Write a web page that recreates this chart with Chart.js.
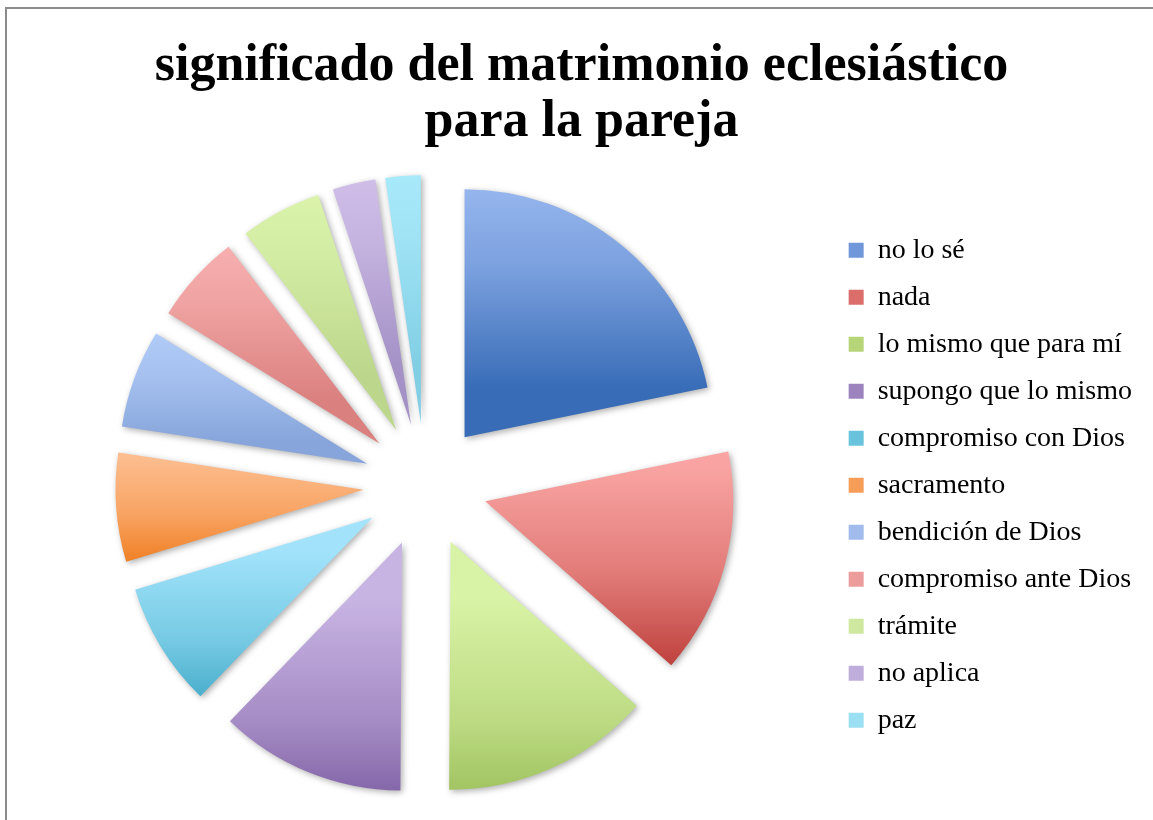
<!DOCTYPE html>
<html>
<head>
<meta charset="utf-8">
<script src="https://cdn.jsdelivr.net/npm/chart.js@4.4.1/dist/chart.umd.min.js"></script>
<style>
html, body { margin: 0; padding: 0; background: #fff; }
#wrap { position: relative; width: 1153px; height: 820px; overflow: hidden; }
#frame { position: absolute; left: 5px; top: 7px; width: 1400px; height: 1200px;
         border-left: 2px solid #8c8c8c; border-top: 2px solid #8c8c8c; }
canvas { position: absolute; left: 0; top: 0; }
</style>
</head>
<body>
<div id="wrap"><div id="frame"></div><canvas id="c" width="1153" height="820"></canvas></div>
<script>
const titleLines = ['significado del matrimonio eclesiástico', 'para la pareja'];

const categories = [
  'no lo sé', 'nada', 'lo mismo que para mí', 'supongo que lo mismo',
  'compromiso con Dios', 'sacramento', 'bendición de Dios',
  'compromiso ante Dios', 'trámite', 'no aplica', 'paz'
];

const values = [21.8, 14.7, 13.6, 12.1, 8.1, 7.1, 6.4, 5.8, 5.3, 2.8, 2.3];

const topColors = [
  '#a5c2f7', '#f9a4a2', '#d9f3a6', '#c8b4e3', '#a2e3fb', '#fdbd8f',
  '#b7d0fc', '#fcb8b8', '#e1f9b2', '#d9c8f0', '#b0f0ff'
];
const bottomColors = [
  '#386cb7', '#b93733', '#8cb247', '#6a4892', '#31a0bf', '#ef7d20',
  '#87a5db', '#da807f', '#bcd68b', '#a491c6', '#82cfe5'
];
const legendColors = [
  '#6f97d9', '#db6e6b', '#b5d578', '#9d83be', '#6ac3dd', '#f69d58',
  '#a0bbec', '#eb9c9b', '#cfe89f', '#bfaedb', '#9be0f2'
];

function mixHex(a, b, t) {
  const pa = [1, 3, 5].map(k => parseInt(a.substr(k, 2), 16));
  const pb = [1, 3, 5].map(k => parseInt(b.substr(k, 2), 16));
  return 'rgb(' + pa.map((v, k) => Math.round(v + (pb[k] - v) * t)).join(',') + ')';
}

const sliceStyle = {
  id: 'sliceStyle',
  beforeDatasetsDraw(chart) {
    const meta = chart.getDatasetMeta(0);
    const ctx = chart.ctx;
    const R = meta.controller.outerRadius;
    meta.data.forEach((arc, i) => {
      const o = (arc.options.offset || 0) / 4;
      // pure radial explode: no radius growth / angle trimming for small slices
      arc.circumference = Math.PI / 2;
      arc.outerRadius = R;
      const half = (arc.startAngle + arc.endAngle) / 2;
      const cx = arc.x + Math.cos(half) * o;
      const cy = arc.y + Math.sin(half) * o;
      const ys = [cy, cy + R * Math.sin(arc.startAngle), cy + R * Math.sin(arc.endAngle)];
      [-Math.PI / 2, Math.PI / 2, 3 * Math.PI / 2].forEach(a => {
        if (a >= arc.startAngle && a <= arc.endAngle) ys.push(cy + R * Math.sin(a));
      });
      const y0 = Math.min(...ys), y1 = Math.max(...ys);
      const g = ctx.createLinearGradient(0, y0, 0, y1);
      g.addColorStop(0, topColors[i]);
      g.addColorStop(0.5, mixHex(topColors[i], bottomColors[i], 0.38));
      g.addColorStop(1, bottomColors[i]);
      arc.options = Object.assign({}, arc.options, { backgroundColor: g });
    });
  },
  beforeDatasetDraw(chart) {
    const ctx = chart.ctx;
    ctx.save();
    ctx.shadowColor = 'rgba(0,0,0,0.32)';
    ctx.shadowBlur = 6;
    ctx.shadowOffsetX = 2;
    ctx.shadowOffsetY = 2;
  },
  afterDatasetDraw(chart) {
    chart.ctx.restore();
  }
};

new Chart(document.getElementById('c'), {
  type: 'pie',
  data: {
    labels: categories,
    datasets: [{
      data: values,
      backgroundColor: legendColors,
      borderWidth: 0,
      offset: 248,
      radius: 248
    }]
  },
  options: {
    responsive: false,
    animation: false,
    events: [],
    layout: { padding: { left: 21, right: 11, top: 0, bottom: 0 } },
    plugins: {
      title: {
        display: true,
        text: titleLines,
        color: '#000',
        font: { family: 'Liberation Serif', size: 52, weight: 'bold', lineHeight: 1.08 },
        padding: { top: 38, bottom: 0 }
      },
      legend: {
        position: 'right',
        fullSize: false,
        labels: {
          color: '#000',
          font: { family: 'Liberation Serif', size: 28 },
          boxWidth: 15,
          boxHeight: 15,
          padding: 19
        }
      },
      tooltip: { enabled: false }
    }
  },
  plugins: [sliceStyle]
});
</script>
</body>
</html>
